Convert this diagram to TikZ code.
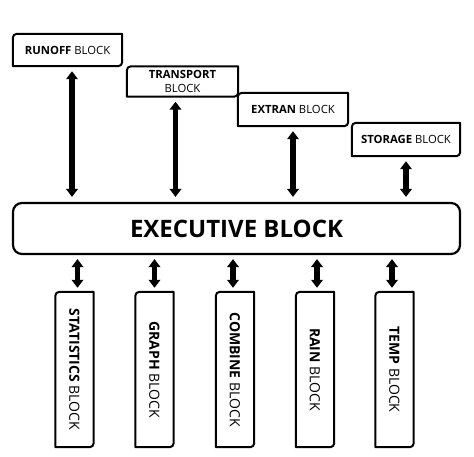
\documentclass[tikz,border=0pt]{standalone}
\usepackage{fontspec}
\setmainfont{Open Sans}
\usetikzlibrary{arrows.meta}
\newcommand\cutbox[1]{\draw[boxline] ([yshift=-4pt]#1.north west) -- (#1.south west) -- ([xshift=-4pt]#1.south east) arc[start angle=270,end angle=360,radius=4pt] -- (#1.north east) -- ([xshift=4pt]#1.north west) arc[start angle=90,end angle=180,radius=4pt] -- cycle;}
\tikzset{
  boxline/.style={line width=2pt, line join=round},
  topblk/.style={inner sep=0pt, align=center, font=\fontsize{11.3}{13.5}\selectfont},
  vblk/.style={inner sep=0pt, minimum width=38pt, minimum height=155pt},
  vlabel/.style={rotate=-90, inner sep=0pt, font=\fontsize{14}{16}\selectfont},
  dbl/.style={line width=5.5pt, {Triangle[width=11.5pt,length=8pt]}-{Triangle[width=11.5pt,length=8pt]}, shorten <=5pt, shorten >=5pt},
}
\begin{document}
\begin{tikzpicture}[x=1pt,y=1pt]
\useasboundingbox[fill=white] (0,0) rectangle (474,-456);
% top blocks
\node[topblk, minimum width=109pt, minimum height=32pt] (runoff) at (67.5,-50) {\textbf{RUNOFF} BLOCK};
\node[topblk, minimum width=111pt, minimum height=30pt] (transport) at (182.5,-81.5) {\textbf{TRANSPORT}\\BLOCK};
\node[topblk, minimum width=110pt, minimum height=33pt] (extran) at (293,-109.5) {\textbf{EXTRAN} BLOCK};
\node[topblk, minimum width=108pt, minimum height=33pt] (storage) at (406,-139.5) {\textbf{STORAGE} BLOCK};
\foreach \n in {runoff,transport,extran,storage}{\cutbox{\n}}
% executive
\node[draw, line width=2.2pt, rounded corners=9pt, minimum width=447pt, minimum height=51pt, inner sep=0pt, font=\bfseries\fontsize{24}{28}\selectfont] (exec) at (236.5,-228.5) {EXECUTIVE BLOCK};
% bottom blocks
\node[vblk] (stat) at (74.5,-369.5) {};
\node[vblk] (graph) at (154.5,-369.5) {};
\node[vblk] (comb) at (235,-369.5) {};
\node[vblk] (rain) at (315,-369.5) {};
\node[vblk] (temp) at (394.5,-369.5) {};
\foreach \n in {stat,graph,comb,rain,temp}{\cutbox{\n}}
\node[vlabel] (statl) at (stat) {\textbf{STATISTICS} BLOCK};
\node[vlabel] (graphl) at (graph) {\textbf{GRAPH} BLOCK};
\node[vlabel] (combl) at (comb) {\textbf{COMBINE} BLOCK};
\node[vlabel] (rainl) at (rain) {\textbf{RAIN} BLOCK};
\node[vlabel] (templ) at (temp) {\textbf{TEMP} BLOCK};
% arrows top
\draw[dbl] ([xshift=4.5pt]runoff.south) -- ([xshift=4.5pt]runoff.south |- exec.north);
\draw[dbl] ([xshift=-7pt]transport.south) -- ([xshift=-7pt]transport.south |- exec.north);
\draw[dbl] (extran.south) -- (extran.south |- exec.north);
\draw[dbl] (storage.south) -- (storage.south |- exec.north);
% arrows bottom
\draw[dbl, shorten <=4pt, shorten >=4pt] ([xshift=3pt]stat.north) -- ([xshift=3pt]stat.north |- exec.south);
\draw[dbl, shorten <=4pt, shorten >=4pt] (graph.north) -- (graph.north |- exec.south);
\draw[dbl, shorten <=4pt, shorten >=4pt] ([xshift=-2pt]comb.north) -- ([xshift=-2pt]comb.north |- exec.south);
\draw[dbl, shorten <=4pt, shorten >=4pt] ([xshift=2pt]rain.north) -- ([xshift=2pt]rain.north |- exec.south);
\draw[dbl, shorten <=4pt, shorten >=4pt] ([xshift=-2.5pt]temp.north) -- ([xshift=-2.5pt]temp.north |- exec.south);
\end{tikzpicture}
\end{document}
